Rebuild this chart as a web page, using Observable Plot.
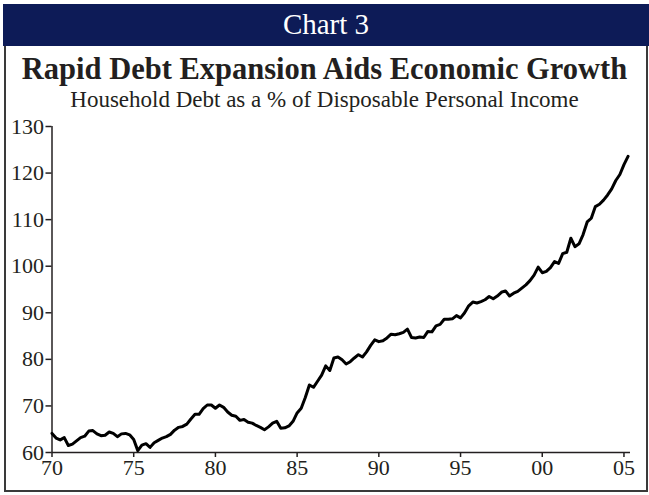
<!DOCTYPE html>
<html>
<head>
<meta charset="utf-8">
<script src="https://cdn.jsdelivr.net/npm/d3@7"></script>
<script src="https://cdn.jsdelivr.net/npm/@observablehq/plot@0.6"></script>
<style>
  html, body { margin: 0; padding: 0; background: #fff; }
  #wrap { position: relative; width: 649px; height: 495px; overflow: hidden; font-family: "Liberation Serif", "DejaVu Serif", serif; color: #231f20; }
  #bar { position: absolute; left: 3px; top: 4px; width: 646px; height: 42px; background: #0d1b57; color: #fff; font-size: 29px; text-align: center; line-height: 40px; }
  #box { position: absolute; left: 4px; top: 46px; width: 640px; height: 444px; border: 2px solid #3a3a3a; border-top: none; }
  #title { position: absolute; left: 0; top: 51px; width: 649px; text-align: center; font-weight: bold; font-size: 30.5px; line-height: 36px; }
  #subtitle { position: absolute; left: 0; top: 87px; width: 649px; text-align: center; font-size: 23px; line-height: 26px; }
  #chart { position: absolute; left: 0; top: 112px; }
  #chart svg { overflow: visible; }
</style>
</head>
<body>
<div id="wrap">
  <div id="bar">Chart 3</div>
  <div id="box"></div>
  <div id="title">Rapid Debt Expansion Aids Economic Growth</div>
  <div id="subtitle">Household Debt as a % of Disposable Personal Income</div>
  <div id="chart"></div>
</div>
<script>
// Quarterly series, first quarter of 1970 through second quarter of 2005
const startYear = 1970;
const periodsPerYear = 4;
const debtRatio = [
  64.1, 63.1, 62.7, 63.2,  61.5, 61.8, 62.5, 63.2,  63.5, 64.6, 64.7, 64.0,
  63.6, 63.7, 64.4, 64.1,  63.4, 64.0, 64.1, 63.8,  62.8, 60.4, 61.6, 61.9,
  61.1, 62.1, 62.6, 63.1,  63.4, 63.9, 64.8, 65.4,  65.6, 66.1, 67.2, 68.2,
  68.2, 69.4, 70.2, 70.2,  69.5, 70.2, 69.7, 68.7,  68.0, 67.8, 66.9, 67.1,
  66.5, 66.3, 65.8, 65.4,  64.9, 65.5, 66.3, 66.7,  65.2, 65.3, 65.7, 66.7,
  68.5, 69.5, 71.8, 74.5,  74.0, 75.3, 76.6, 78.6,  77.6, 80.3, 80.5, 79.9,
  79.0, 79.5, 80.3, 81.0,  80.5, 81.6, 83.0, 84.2,  83.8, 84.0, 84.6, 85.4,
  85.3, 85.5, 85.8, 86.5,  84.7, 84.6, 84.8, 84.7,  86.0, 85.9, 87.2, 87.5,
  88.6, 88.6, 88.7, 89.4,  88.9, 90.0, 91.5, 92.3,  92.1, 92.4, 92.8, 93.5,
  93.0, 93.6, 94.4, 94.7,  93.6, 94.2, 94.6, 95.3,  96.0, 96.9, 98.1, 99.8,
  98.6, 98.9, 99.7, 101.0, 100.6, 102.7, 103.0, 106.0, 104.2, 104.8, 106.8, 109.5,
  110.3, 112.8, 113.3, 114.2, 115.3, 116.6, 118.4, 119.7, 121.8, 123.6
];
const xTicks = [1970, 1975, 1980, 1985, 1990, 1995, 2000, 2005];
const xTickLabels = ["70", "75", "80", "85", "90", "95", "00", "05"];
const yTicks = [60, 70, 80, 90, 100, 110, 120, 130];

const data = debtRatio.map((v, i) => ({t: startYear + i / periodsPerYear, v}));
const xDomain = [1970, 2005.4];
const yDomain = [60, 130];
const ink = "#231f20";

const chart = Plot.plot({
  width: 649,
  height: 370,
  marginLeft: 51.5,
  marginRight: 19,
  marginTop: 14,
  marginBottom: 30,
  style: {fontFamily: "'Liberation Serif', serif", fontSize: "22px", color: ink, background: "transparent", overflow: "visible"},
  x: {domain: xDomain, label: null},
  y: {domain: yDomain, label: null},
  marks: [
    Plot.axisX({ticks: xTicks, tickFormat: d => xTickLabels[xTicks.indexOf(d)], tickSize: 5, tickPadding: 2, stroke: ink, strokeWidth: 1.5, fontSize: 22, label: null}),
    Plot.axisY({ticks: yTicks, tickSize: 6, tickPadding: 2, stroke: ink, strokeWidth: 1.5, fontSize: 22, label: null}),
    Plot.ruleX([xDomain[0]], {y1: yDomain[0], y2: yDomain[1], stroke: ink, strokeWidth: 1.5}),
    Plot.ruleY([yDomain[0]], {x1: xDomain[0], x2: xDomain[1], stroke: ink, strokeWidth: 1.5}),
    Plot.lineY(data, {x: "t", y: "v", stroke: "#000", strokeWidth: 3, strokeLinejoin: "round"})
  ]
});
document.getElementById("chart").appendChild(chart);
</script>
</body>
</html>
